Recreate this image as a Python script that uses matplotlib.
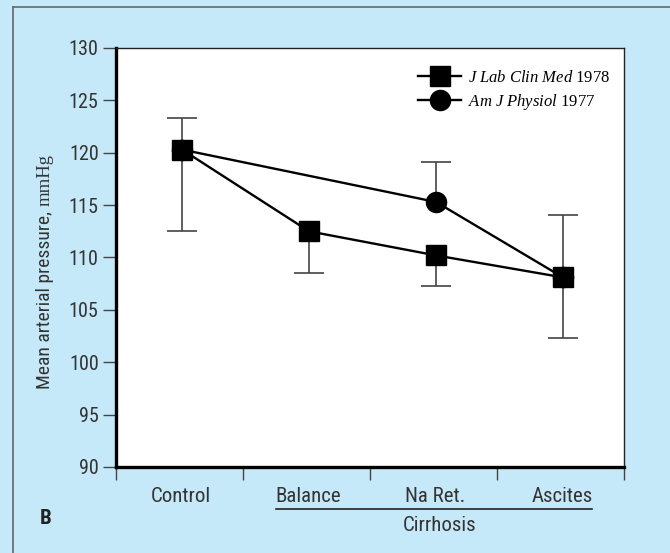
import matplotlib.pyplot as plt
from matplotlib.lines import Line2D
import numpy as np

# data
categories = ["Control", "Balance", "Na Ret.", "Ascites"]
sq_idx = [0, 1, 2, 3]
sq_mean = [120.3, 112.5, 110.2, 108.1]
sq_low = [112.5, 108.5, 107.3, 102.3]      # lower end of error bar
ci_idx = [0, 2, 3]
ci_mean = [120.3, 115.3, 108.1]
ci_high = [123.3, 119.1, 114.1]            # upper end of error bar
yticks = [90, 95, 100, 105, 110, 115, 120, 125, 130]

sans = ["Roboto Condensed", "DejaVu Sans"]
serif = ["Liberation Serif", "DejaVu Serif"]
plt.rcParams["font.family"] = sans
plt.rcParams["mathtext.fontset"] = "custom"
plt.rcParams["mathtext.it"] = "Liberation Serif:italic"
plt.rcParams["mathtext.rm"] = "Liberation Serif"

bg = "#c6e9f9"
grey = "#444444"
txt = "#333333"

fig = plt.figure(figsize=(6.70, 5.53), dpi=100, facecolor=bg)
ax = fig.add_axes([116 / 670, 86 / 553, 508 / 670, 419 / 553])

# frame lines of the panel (top and left)
fig.add_artist(Line2D([13 / 670, 13 / 670], [0, 546 / 553], color="#666666", lw=1.2))
fig.add_artist(Line2D([13 / 670, 1], [546 / 553, 546 / 553], color="#666666", lw=1.2))

off = 0.52
xs_sq = np.array(sq_idx) + off
xs_ci = np.array(ci_idx) + off

# one sided error bars
ax.vlines(xs_sq, sq_low, sq_mean, color=grey, lw=1.2, zorder=2)
ax.plot(xs_sq, sq_low, ls="none", marker="_", markersize=21.6, mew=1.2, color=grey, zorder=2)
ax.vlines(xs_ci, ci_mean, ci_high, color=grey, lw=1.2, zorder=2)
ax.plot(xs_ci, ci_high, ls="none", marker="_", markersize=21.6, mew=1.2, color=grey, zorder=2)

ax.plot(xs_ci, ci_mean, color="black", lw=1.7, marker="o", markersize=14.5,
        label=r"$\mathit{Am\ J\ Physiol}$ 1977", zorder=3)
ax.plot(xs_sq, sq_mean, color="black", lw=1.7, marker="s", markersize=14,
        label=r"$\mathit{J\ Lab\ Clin\ Med}$ 1978", zorder=4)

ax.set_xlim(0, 4)
ax.set_ylim(90, 130)
ax.set_yticks(yticks)
ax.set_yticklabels([str(v) for v in yticks], fontsize=14.5, color=txt)
ax.set_xticks([0, 1, 2, 3, 4])
ax.set_xticklabels([])
ax.tick_params(axis="both", direction="out", length=9.5, width=1, color=grey)
ax.tick_params(axis="y", pad=3)

for side in ["left", "bottom"]:
    ax.spines[side].set_linewidth(2.4)
for side in ["top", "right"]:
    ax.spines[side].set_linewidth(1.0)
    ax.spines[side].set_color("#222222")

# category labels
xt = ax.get_xaxis_transform()
for i, c in enumerate(categories):
    ax.text(i + off - 0.01, -0.070, c, transform=xt, ha="center", va="center",
            fontsize=15, color=txt)
ax.plot([1.26, 3.75], [-0.100, -0.100], transform=xt, color="#222222", lw=1.2, clip_on=False)
ax.text(2.55, -0.140, "Cirrhosis", transform=xt, ha="center", va="center",
        fontsize=15, color=txt)

# y label, last word in serif
yl = ax.text(-0.14, 0.405, "Mean arterial pressure, ", transform=ax.transAxes,
             rotation=90, ha="center", va="center", fontsize=14, color=txt)
ax.annotate("mmHg", xy=(0.5, 1.0), xycoords=yl, xytext=(0, 0), textcoords="offset points",
            rotation=90, ha="center", va="bottom", fontsize=13.5, color=txt,
            family=serif)

fig.text(46 / 670, 1 - 519 / 553, "B", fontsize=15, fontweight="bold", color="#222222",
         ha="center", va="center")

handles, labels = ax.get_legend_handles_labels()
leg = ax.legend(handles[::-1], labels[::-1], loc="upper left", bbox_to_anchor=(0.575, 0.972),
                frameon=False, prop={"family": serif, "size": 12},
                handlelength=2.6, handletextpad=0.4, labelspacing=0.38, borderaxespad=0.2)

fig.savefig("out.png", dpi=100, facecolor=bg)
